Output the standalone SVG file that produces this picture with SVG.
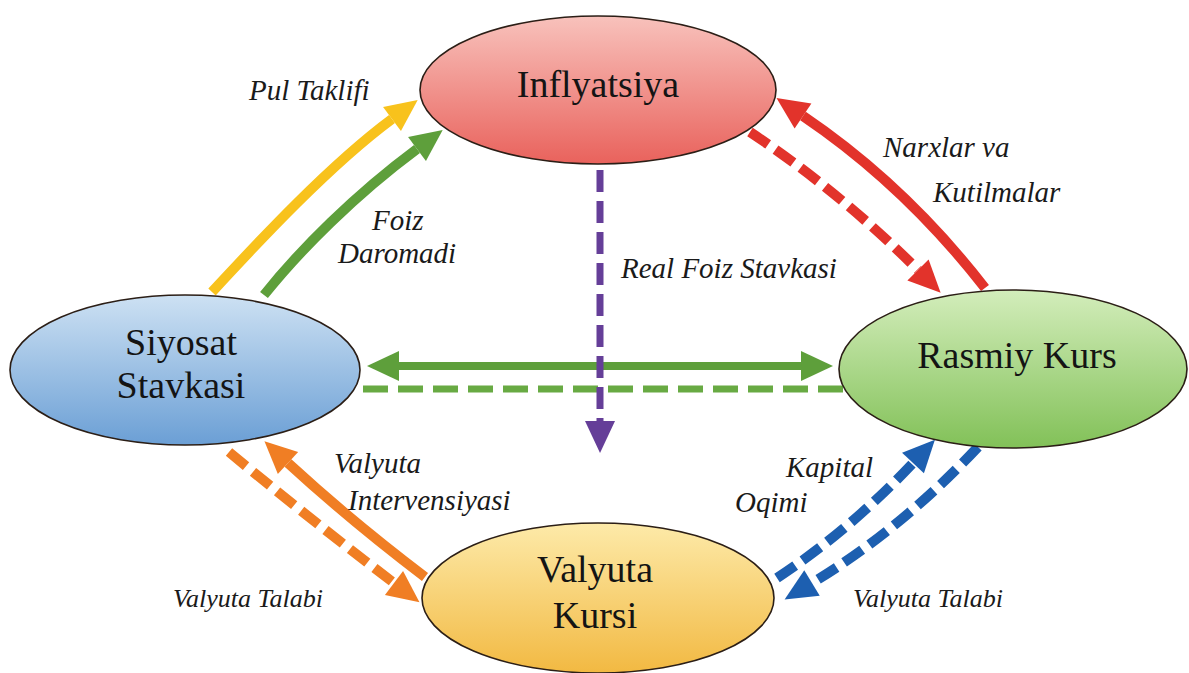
<svg xmlns="http://www.w3.org/2000/svg" width="1189" height="673" viewBox="0 0 1189 673">
<style>
.node{stroke:#2b1e16;stroke-width:1.6}
.nt{font-family:"Liberation Serif","Times New Roman",serif;font-size:38px;fill:#141414;text-anchor:middle}
.lb{font-family:"Liberation Serif","Times New Roman",serif;font-style:italic;font-size:29px;fill:#1a1a1a}
.lbs{font-size:26px}
.c{fill:none;stroke-linecap:butt}
.dash{stroke-dasharray:22 9}
</style>
<defs>
<linearGradient id="gRed" x1="0" y1="0" x2="0" y2="1"><stop offset="0" stop-color="#f8c2bc"/><stop offset="1" stop-color="#e9625c"/></linearGradient>
<linearGradient id="gBlue" x1="0" y1="0" x2="0" y2="1"><stop offset="0" stop-color="#cde1f3"/><stop offset="1" stop-color="#6b9fd5"/></linearGradient>
<linearGradient id="gGreen" x1="0" y1="0" x2="0" y2="1"><stop offset="0" stop-color="#d3edbb"/><stop offset="1" stop-color="#82c158"/></linearGradient>
<linearGradient id="gYel" x1="0" y1="0" x2="0" y2="1"><stop offset="0" stop-color="#fdeaa9"/><stop offset="1" stop-color="#f2b942"/></linearGradient>
<marker id="mY" markerUnits="userSpaceOnUse" markerWidth="32" markerHeight="30" refX="0" refY="15" orient="auto" overflow="visible"><path d="M0,0 L32,15 L0,30 Z" fill="#f8c21c"/></marker>
<marker id="mG" markerUnits="userSpaceOnUse" markerWidth="32" markerHeight="30" refX="0" refY="15" orient="auto-start-reverse" overflow="visible"><path d="M0,0 L32,15 L0,30 Z" fill="#5e9f3b"/></marker>
<marker id="mR" markerUnits="userSpaceOnUse" markerWidth="32" markerHeight="30" refX="0" refY="15" orient="auto" overflow="visible"><path d="M0,0 L32,15 L0,30 Z" fill="#e2332b"/></marker>
<marker id="mO" markerUnits="userSpaceOnUse" markerWidth="32" markerHeight="30" refX="0" refY="15" orient="auto" overflow="visible"><path d="M0,0 L32,15 L0,30 Z" fill="#f07e24"/></marker>
<marker id="mB" markerUnits="userSpaceOnUse" markerWidth="32" markerHeight="30" refX="0" refY="15" orient="auto" overflow="visible"><path d="M0,0 L32,15 L0,30 Z" fill="#1d5fb0"/></marker>
<marker id="mP" markerUnits="userSpaceOnUse" markerWidth="32" markerHeight="30" refX="0" refY="15" orient="auto" overflow="visible"><path d="M0,0 L32,15 L0,30 Z" fill="#653e98"/></marker>
</defs>
<rect width="1189" height="673" fill="#ffffff"/>
<g id="connectors">
<path class="c" d="M212,292 C260,240 330,165 392,119" stroke="#f8c21c" stroke-width="10" marker-end="url(#mY)"/>
<path class="c" d="M264,295 C300,250 355,195 417,149" stroke="#5e9f3b" stroke-width="10" marker-end="url(#mG)"/>
<path class="c" d="M985,288 Q905,185 803,116" stroke="#e2332b" stroke-width="10" marker-end="url(#mR)"/>
<path class="c dash" d="M750,132 Q840,192 918,270" stroke="#e2332b" stroke-width="10" marker-end="url(#mR)"/>
<path class="c" d="M399,366 L801,366" stroke="#5e9f3b" stroke-width="8" marker-start="url(#mG)" marker-end="url(#mG)"/>
<path class="c" d="M363,389 L847,389" stroke="#68aa43" stroke-width="7" stroke-dasharray="25 10"/>
<path class="c dash" d="M600,170 L600,421" stroke="#653e98" stroke-width="7" marker-end="url(#mP)"/>
<path class="c" d="M425,577 Q350,520 288,463" stroke="#f07e24" stroke-width="10" marker-end="url(#mO)"/>
<path class="c dash" d="M229,452 Q311,520 394,583" stroke="#f07e24" stroke-width="10" marker-end="url(#mO)"/>
<path class="c dash" d="M777,578 Q850,530 913,463" stroke="#1d5fb0" stroke-width="10" marker-end="url(#mB)"/>
<path class="c dash" d="M978,447 Q900,530 812,583" stroke="#1d5fb0" stroke-width="10" marker-end="url(#mB)"/>
<text class="lb" x="249" y="100">Pul Taklifi</text>
<text class="lb" x="372" y="230">Foiz</text>
<text class="lb" x="338" y="263">Daromadi</text>
<text class="lb" x="883" y="157">Narxlar va</text>
<text class="lb" x="933" y="202">Kutilmalar</text>
<text class="lb" x="621" y="278">Real Foiz Stavkasi</text>
<text class="lb" x="334" y="473">Valyuta</text>
<text class="lb" x="348" y="510">Intervensiyasi</text>
<text class="lb lbs" x="173" y="607">Valyuta Talabi</text>
<text class="lb" x="786" y="477">Kapital</text>
<text class="lb" x="735" y="512">Oqimi</text>
<text class="lb lbs" x="853" y="607">Valyuta Talabi</text>
</g>
<g id="inflyatsiya">
<ellipse class="node" cx="598" cy="90" rx="178" ry="74" fill="url(#gRed)"/>
<text class="nt" x="598" y="97">Inflyatsiya</text>
</g>
<g id="siyosat-stavkasi">
<ellipse class="node" cx="185" cy="370" rx="175" ry="75" fill="url(#gBlue)"/>
<text class="nt" x="181" y="355">Siyosat</text>
<text class="nt" x="181" y="398">Stavkasi</text>
</g>
<g id="rasmiy-kurs">
<ellipse class="node" cx="1013" cy="369" rx="174" ry="79" fill="url(#gGreen)"/>
<text class="nt" x="1017" y="368">Rasmiy Kurs</text>
</g>
<g id="valyuta-kursi">
<ellipse class="node" cx="598" cy="598" rx="176" ry="75" fill="url(#gYel)"/>
<text class="nt" x="595" y="582">Valyuta</text>
<text class="nt" x="595" y="628">Kursi</text>
</g>
</svg>
